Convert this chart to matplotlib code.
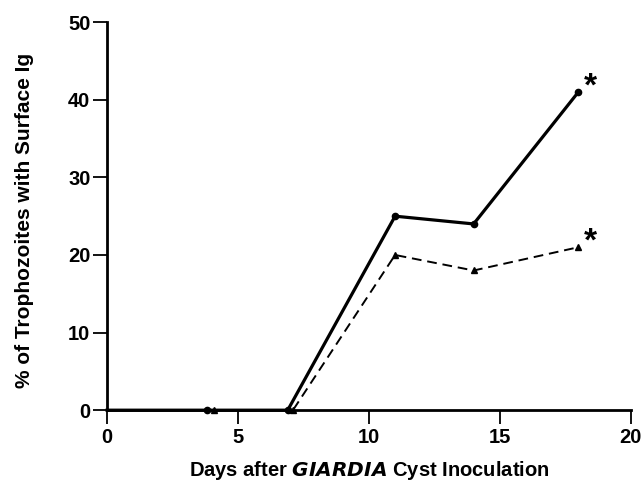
import matplotlib
matplotlib.use("Agg")
import matplotlib.pyplot as plt

# Values
days_ig = [0, 3.8, 6.9, 11, 14, 18]
pct_ig = [0, 0, 0, 25, 24, 41]

days_tri = [0, 4.1, 7.1, 11, 14, 18]
pct_tri = [0, 0, 0, 20, 18, 21]

xticks = [0, 5, 10, 15, 20]
yticks = [0, 10, 20, 30, 40, 50]

plt.rcParams["font.family"] = ["Liberation Sans", "DejaVu Sans"]
plt.rcParams["font.weight"] = "bold"

fig = plt.figure(figsize=(6.41, 4.82), dpi=100)
ax = fig.add_axes([0.167, 0.149, 0.817, 0.805])

ax.plot(days_ig, pct_ig, color="black", linewidth=2.3, marker="o",
        markersize=4.5, markevery=[1, 2, 3, 4, 5], clip_on=False, zorder=3)
ax.plot(days_tri, pct_tri, color="black", linewidth=1.4, linestyle=(0, (5, 3)),
        marker="^", markersize=4.5, markevery=[1, 2, 3, 4, 5],
        clip_on=False, zorder=3)

# significance asterisks next to the last points
ax.text(days_ig[-1] + 0.2, pct_ig[-1] + 0.6, "*", fontsize=24, fontweight="bold",
        ha="left", va="center")
ax.text(days_tri[-1] + 0.2, pct_tri[-1] + 0.6, "*", fontsize=24, fontweight="bold",
        ha="left", va="center")

ax.set_xlim(0, 20)
ax.set_ylim(0, 50)
ax.set_xticks(xticks)
ax.set_yticks(yticks)

for side in ["top", "right"]:
    ax.spines[side].set_visible(False)
for side in ["left", "bottom"]:
    ax.spines[side].set_linewidth(2.0)

ax.tick_params(direction="out", length=10, width=1.3, labelsize=14.5, pad=2)
ax.tick_params(axis="x", pad=3)
for lab in ax.get_xticklabels() + ax.get_yticklabels():
    lab.set_fontweight("bold")

ax.set_xlabel("Days after $\\bf{\\it{GIARDIA}}$ Cyst Inoculation",
              fontsize=14.5, fontweight="bold")
ax.set_ylabel("% of Trophozoites with Surface Ig", fontsize=15,
              fontweight="bold")
ax.yaxis.label.set_verticalalignment("center")
ax.xaxis.label.set_verticalalignment("center")
ax.yaxis.set_label_coords(-0.158, 0.49)
ax.xaxis.set_label_coords(0.5, -0.155)

plt.savefig("out.png", dpi=100)
